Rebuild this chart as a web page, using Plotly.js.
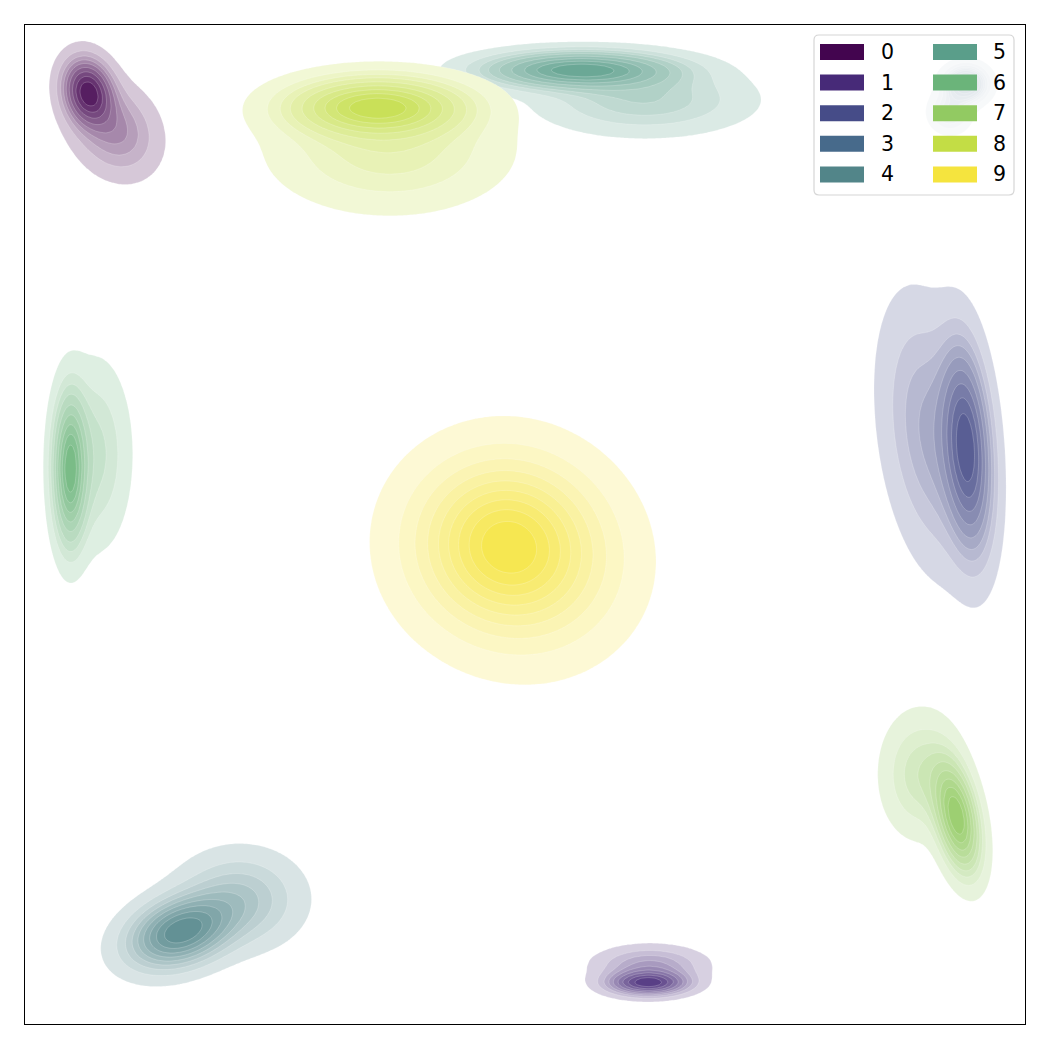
<!DOCTYPE html>
<html><head><meta charset="utf-8">
<script src="https://cdn.plot.ly/plotly-3.0.1.min.js"></script>
<style>html,body{margin:0;padding:0;background:#fff}</style>
</head><body><div id="chart" style="width:1050px;height:1050px"></div>
<script>
// ---- categories / legend ----
const categories = ['0','1','2','3','4','5','6','7','8','9'];
const legendColors = ['#43054f','#472a78','#464c88','#476a8b','#528589','#5a9e8a','#6bb47a','#92ca62','#c3dd45','#f5e43e'];

// ---- cluster components (data units, axes 0..100) ----
const compCluster = [0,0, 1,1, 2,2, 3,3, 4,4, 5,5, 6,6, 7,7, 8,8, 9,9];
const compX   = [6.3,9.0, 62.3,62.5, 94.2,90.5, 94.1,92.5, 15.5,21.5, 55.5,62.0, 4.5,7.0, 93.2,89.5, 35.2,36.5, 47.5,51.0];
const compY   = [93.3,89.5, 4.1,5.9, 57.7,59.0, 94.1,91.3, 9.2,12.5, 95.5,92.5, 55.5,57.0, 20.7,25.0, 91.8,87.5, 48.5,45.5];
const compSX  = [1.5,2.5, 2.4,3.1, 1.5,2.8, 1.3,1.2, 3.2,3.6, 5.5,6.0, 1.0,2.0, 1.4,2.2, 5.0,6.5, 5.5,5.8];
const compSY  = [2.0,2.7, 0.75,1.1, 6.0,7.5, 1.1,1.2, 2.2,2.8, 1.1,2.0, 4.3,5.2, 3.3,3.5, 1.7,3.4, 5.2,5.5];
const compRho = [-0.15,-0.2, 0,0, -0.25,-0.3, 0,0, 0.3,0, 0,0, 0,0, -0.4,0, 0,0, 0,0];
const compW   = [1,0.7, 1,0.6, 1,0.7, 1,0.4, 1,0.5, 1,0.5, 1,0.5, 1,0.45, 1,0.6, 1,0.5];

const nLevels = 10, thresh = 0.05;

function hexToRgb(h){h=h.replace('#','');return [parseInt(h.substr(0,2),16),parseInt(h.substr(2,2),16),parseInt(h.substr(4,2),16)];}
function mixWhite(hex,t){const c=hexToRgb(hex);return 'rgb('+c.map(v=>Math.round(255-(255-v)*t)).join(',')+')';}

function buildCluster(ci){
  const idx=[];compCluster.forEach((c,i)=>{if(c===ci)idx.push(i);});
  let x0=1e9,x1=-1e9,y0=1e9,y1=-1e9;
  idx.forEach(i=>{x0=Math.min(x0,compX[i]-5*compSX[i]);x1=Math.max(x1,compX[i]+5*compSX[i]);
                  y0=Math.min(y0,compY[i]-5*compSY[i]);y1=Math.max(y1,compY[i]+5*compSY[i]);});
  const step=0.2;
  const xs=[],ys=[];
  for(let x=x0;x<=x1;x+=step)xs.push(x);
  for(let y=y0;y<=y1;y+=step)ys.push(y);
  const d=[];const flat=[];
  for(let j=0;j<ys.length;j++){const row=[];
    for(let i=0;i<xs.length;i++){let s=0;
      idx.forEach(k=>{const r=compRho[k];const dx=(xs[i]-compX[k])/compSX[k];const dy=(ys[j]-compY[k])/compSY[k];
        const q=(dx*dx-2*r*dx*dy+dy*dy)/(1-r*r);
        s+=compW[k]/(compSX[k]*compSY[k]*Math.sqrt(1-r*r))*Math.exp(-q/2);});
      row.push(s);flat.push(s);}
    d.push(row);}
  // iso-proportion transform: mass fraction of density below each cell
  const sorted=flat.slice().sort((a,b)=>b-a);
  const total=sorted.reduce((a,b)=>a+b,0);
  const vals=[],cum=[];let acc=0;
  for(let i=0;i<sorted.length;i++){acc+=sorted[i];vals.push(sorted[i]);cum.push(acc/total);}
  function prop(v){
    let lo=0,hi=vals.length-1;
    while(lo<hi){const m=(lo+hi)>>1;if(vals[m]>=v)lo=m+1;else hi=m;}
    const k=Math.max(0,lo-1);return 1-cum[k];}
  const z=d.map(row=>row.map(prop));
  return {xs,ys,z};
}

const cs=(1-thresh)/(nLevels-1);
const nBands=nLevels-1;
const T='rgba(255,255,255,0)';
const traces=[];
categories.forEach((cat,ci)=>{
  const g=buildCluster(ci);
  const bands=[];for(let k=0;k<nBands;k++)bands.push(mixWhite(legendColors[ci],0.22+k*(0.9-0.22)/(nBands-1)));
  const scale=[[0,T],[0.9/nBands,T]];
  for(let k=0;k<nBands;k++){
    scale.push([(k+0.95)/nBands,bands[k]]);
    scale.push([Math.min(1,(k+1.9)/nBands),bands[k]]);
  }
  scale[scale.length-1][0]=1;
  traces.push({type:'contour',x:g.xs,y:g.ys,z:g.z,name:cat,showscale:false,showlegend:false,hoverinfo:'skip',
    autocontour:false,contours:{start:thresh,end:thresh+cs*(nBands-1),size:cs,coloring:'fill',showlines:true},
    line:{width:0.6,color:'rgba(255,255,255,0.35)',smoothing:1},colorscale:scale});
});

// ---- manual legend (two columns) ----
const px2x=p=>(p-25)/1000, py2y=p=>(1024-p)/999;
const shapes=[];const annotations=[];
(function(){
  const bx0=px2x(814),bx1=px2x(1014),by0=py2y(195),by1=py2y(35),r=0.005;
  const path=`M ${bx0+r} ${by1} L ${bx1-r} ${by1} Q ${bx1} ${by1} ${bx1} ${by1-r} L ${bx1} ${by0+r} Q ${bx1} ${by0} ${bx1-r} ${by0} L ${bx0+r} ${by0} Q ${bx0} ${by0} ${bx0} ${by0+r} L ${bx0} ${by1-r} Q ${bx0} ${by1} ${bx0+r} ${by1} Z`;
  shapes.push({type:'path',xref:'paper',yref:'paper',path:path,fillcolor:'rgba(255,255,255,0.8)',line:{color:'#d6d6d6',width:1.2},layer:'above'});
  categories.forEach((cat,i)=>{
    const col=Math.floor(i/5),row=i%5;
    const cy=52+row*30.6;
    const px0=col===0?820:933;
    shapes.push({type:'rect',xref:'paper',yref:'paper',x0:px2x(px0),x1:px2x(px0+44),y0:py2y(cy+8),y1:py2y(cy-8),fillcolor:legendColors[i],line:{width:0},layer:'above'});
    annotations.push({xref:'paper',yref:'paper',x:px2x(col===0?880:992),y:py2y(cy),text:cat,showarrow:false,xanchor:'left',yanchor:'middle',borderpad:0,
      font:{family:'DejaVu Sans',size:20.5,color:'#000'}});
  });
})();

const axis={range:[0,100],showgrid:false,zeroline:false,showticklabels:false,ticks:'',showline:true,mirror:true,linecolor:'#000',linewidth:1.2,fixedrange:true};
const layout={width:1050,height:1050,margin:{l:25,r:25,t:25,b:26,pad:0},paper_bgcolor:'#fff',plot_bgcolor:'#fff',
  xaxis:Object.assign({},axis),yaxis:Object.assign({},axis),showlegend:false,shapes:shapes,annotations:annotations};
Plotly.newPlot('chart',traces,layout,{displayModeBar:false,staticPlot:true});
</script></body></html>
